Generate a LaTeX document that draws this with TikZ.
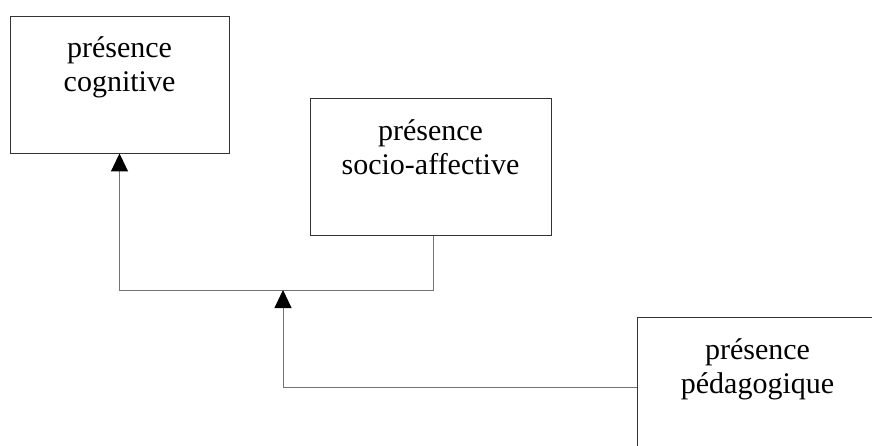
\documentclass[tikz,border=0pt]{standalone}
\usepackage{fontspec}
\setmainfont{Liberation Serif}
\usetikzlibrary{arrows.meta}
\begin{document}
\begin{tikzpicture}[x=1pt,y=-1pt,
  box/.style={draw=black!80,line width=0.9pt,minimum width=#1,minimum height=137pt,inner sep=0pt},
  lbl/.style={align=center,inner sep=0pt,font=\fontsize{30}{34}\selectfont,anchor=north},
  conn/.style={draw=black!55,line width=0.9pt},
  tip/.style={-{Triangle[width=17pt,length=18pt,color=black]}}]
\useasboundingbox (0,0) rectangle (872,446);
\node[box=219pt] (cog) at (119.5,84.5) {};
\node[lbl] (cogt) at ([yshift=-21pt]cog.north) {présence\\cognitive};
\node[box=241pt] (soc) at (430.5,167) {};
\node[lbl] (soct) at ([yshift=-21pt]soc.north) {présence\\socio-affective};
\node[box=241pt] (ped) at (757.5,386) {};
\node[lbl] (pedt) at ([yshift=-21pt]ped.north) {présence\\pédagogique};
\coordinate (elbow) at (119.5,290);
\coordinate (mid) at (283,290);
\draw[conn,tip] ([xshift=2.5pt]soc.south) |- (elbow) -- (cog.south);
\draw[conn,tip] ([yshift=-1pt]ped.west) -| (mid);
\end{tikzpicture}
\end{document}
